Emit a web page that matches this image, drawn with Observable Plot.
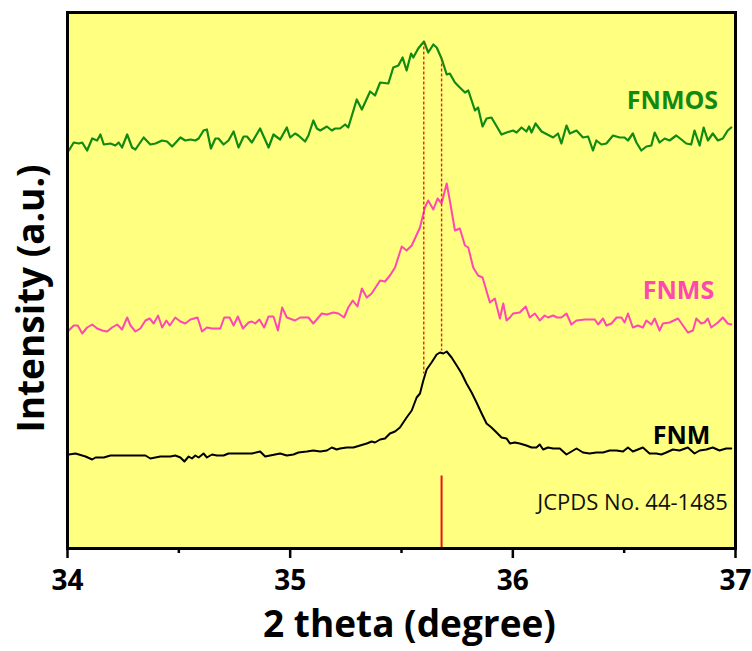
<!DOCTYPE html>
<html>
<head>
<meta charset="utf-8">
<script src="https://cdn.jsdelivr.net/npm/d3@7"></script>
<script src="https://cdn.jsdelivr.net/npm/@observablehq/plot@0.6"></script>
<style>
  html, body { margin: 0; padding: 0; background: #fff; }
  #chart { width: 752px; height: 651px; }
</style>
</head>
<body>
<div id="chart"></div>
<script>
// ---- FNMOS (green) ----
const fnmosTheta = [34.006,34.028,34.051,34.066,34.088,34.111,34.133,34.148,34.163,34.193,
  34.215,34.230,34.245,34.268,34.290,34.305,34.342,34.372,34.395,34.425,
  34.447,34.470,34.507,34.529,34.552,34.574,34.589,34.611,34.626,34.644,
  34.664,34.678,34.701,34.723,34.746,34.768,34.791,34.806,34.828,34.865,
  34.903,34.925,34.955,34.985,35.000,35.022,35.037,35.067,35.082,35.104,
  35.120,35.135,35.165,35.187,35.202,35.224,35.247,35.261,35.299,35.322,
  35.359,35.381,35.404,35.441,35.463,35.486,35.505,35.523,35.543,35.553,
  35.575,35.601,35.620,35.643,35.658,35.680,35.703,35.717,35.740,35.762,
  35.785,35.800,35.830,35.844,35.864,35.882,35.904,35.949,35.972,36.001,
  36.017,36.039,36.061,36.073,36.084,36.102,36.129,36.181,36.203,36.218,
  36.241,36.256,36.286,36.315,36.338,36.360,36.375,36.398,36.420,36.450,
  36.480,36.502,36.517,36.539,36.555,36.577,36.600,36.622,36.637,36.659,
  36.682,36.704,36.734,36.757,36.779,36.801,36.816,36.839,36.857,36.876,
  36.898,36.921,36.943,36.965,36.981];
const fnmosI = [398,406,405,406,398,410,408,414,404,405,
  403,406,401,414,401,399,411,404,405,408,
  407,402,411,408,409,408,410,418,419,400,
  410,410,404,408,417,401,412,412,406,420,
  401,414,409,421,411,415,413,407,413,428,
  420,418,422,418,420,420,424,421,449,439,
  457,453,466,465,481,483,491,478,495,491,
  500,507,496,504,501,490,474,475,466,461,
  456,458,438,441,422,430,431,414,416,418,
  416,421,417,422,416,425,417,411,415,405,
  423,415,418,411,412,398,408,404,405,413,
  411,411,408,415,406,398,402,403,416,406,
  410,408,413,409,405,404,418,403,421,408,
  415,408,410,418,421];

// ---- FNMS (pink) ----
const fnmsTheta = [34.006,34.028,34.046,34.066,34.088,34.111,34.133,34.156,34.178,34.200,
  34.223,34.245,34.268,34.283,34.305,34.327,34.350,34.369,34.387,34.407,
  34.425,34.444,34.459,34.484,34.507,34.529,34.552,34.584,34.604,34.626,
  34.649,34.686,34.704,34.728,34.746,34.765,34.788,34.813,34.828,34.843,
  34.862,34.883,34.903,34.925,34.945,34.964,34.985,35.022,35.045,35.082,
  35.104,35.142,35.165,35.194,35.217,35.242,35.261,35.281,35.302,35.322,
  35.344,35.366,35.404,35.426,35.448,35.471,35.501,35.523,35.546,35.583,
  35.605,35.620,35.643,35.662,35.680,35.703,35.717,35.740,35.762,35.785,
  35.800,35.822,35.844,35.864,35.897,35.919,35.942,35.957,35.972,35.987,
  36.001,36.031,36.058,36.076,36.099,36.121,36.143,36.158,36.181,36.199,
  36.218,36.241,36.263,36.286,36.323,36.368,36.383,36.405,36.420,36.443,
  36.466,36.488,36.502,36.517,36.539,36.562,36.584,36.600,36.622,36.637,
  36.659,36.674,36.704,36.742,36.786,36.809,36.824,36.846,36.861,36.876,
  36.891,36.921,36.943,36.965,36.981];
const fnmsI = [218,223,223,215,221,224,220,218,217,221,
  224,219,231,223,217,220,228,230,225,233,
  221,228,223,231,227,225,229,231,217,221,
  220,220,231,231,223,232,220,226,227,225,
  229,221,232,232,218,241,231,228,231,231,
  225,235,234,236,235,231,241,248,242,260,
  251,255,268,267,273,281,302,298,303,321,
  341,348,339,350,345,365,348,318,320,303,
  301,281,273,271,246,250,230,245,228,231,
  235,236,242,231,235,228,233,231,233,231,
  231,235,224,228,229,229,224,230,223,225,
  231,231,226,235,221,223,221,228,224,230,
  218,225,226,230,216,218,230,225,226,230,
  221,226,231,225,224];

// ---- FNM (black) ----
const fnmTheta = [34.006,34.036,34.081,34.111,34.126,34.163,34.193,34.215,34.268,34.327,
  34.350,34.372,34.417,34.462,34.484,34.507,34.525,34.544,34.559,34.574,
  34.589,34.611,34.626,34.649,34.671,34.701,34.723,34.761,34.791,34.828,
  34.865,34.888,34.910,34.955,34.985,35.015,35.037,35.075,35.104,35.135,
  35.165,35.187,35.209,35.224,35.254,35.284,35.314,35.344,35.366,35.381,
  35.404,35.426,35.448,35.471,35.493,35.523,35.546,35.568,35.583,35.598,
  35.613,35.635,35.658,35.673,35.688,35.703,35.725,35.748,35.770,35.792,
  35.815,35.837,35.860,35.882,35.904,35.927,35.949,35.972,35.987,36.009,
  36.031,36.061,36.084,36.106,36.121,36.136,36.158,36.181,36.211,36.241,
  36.256,36.286,36.315,36.345,36.375,36.405,36.435,36.465,36.495,36.517,
  36.539,36.562,36.584,36.614,36.644,36.667,36.689,36.719,36.749,36.786,
  36.816,36.839,36.869,36.898,36.928,36.958,36.981];
const fnmI = [94,95,92,89,91,91,93,93,93,93,
  93,90,92,92,93,91,87,92,90,93,
  91,95,91,94,93,93,95,95,95,95,
  97,92,93,95,93,94,96,97,98,97,
  98,101,99,100,101,101,103,105,107,106,
  109,110,115,117,121,131,138,151,155,168,
  179,186,194,196,195,197,191,183,175,165,
  156,146,135,125,121,116,111,110,105,106,
  105,103,101,101,104,99,101,100,100,94,
  96,100,96,95,96,96,98,98,97,101,
  97,99,101,95,95,94,96,99,98,101,
  95,98,99,101,98,100,100];

// ---- guides & labels ----
const dashTheta = [35.60, 35.68];
const dashTop = [507, 490];
const dashBottom = [175, 198];
const refTheta = [35.68];
const refHeight = [73];
const seriesNames = ["FNMOS", "FNMS", "FNM"];
const labelTheta = [36.717, 36.744, 36.758];
const labelI = [448, 258, 113];
const jcpdsText = "JCPDS No. 44-1485";
const majorTicks = [34, 35, 36, 37];
const minorTicks = [34.5, 35.5, 36.5];
const xTitle = "2 theta (degree)";
const yTitle = "Intensity (a.u.)";

const colors = {FNMOS: "#108a10", FNMS: "#ff48b0", FNM: "#000000"};

const mk = (t, v) => t.map((d, i) => ({theta: d, I: v[i]}));
const fnmos = mk(fnmosTheta, fnmosI);
const fnms = mk(fnmsTheta, fnmsI);
const fnm = mk(fnmTheta, fnmI);
const dashes = dashTheta.map((t, i) => ({theta: t, top: dashTop[i], bottom: dashBottom[i]}));
const refs = refTheta.map((t, i) => ({theta: t, h: refHeight[i]}));
const labels = seriesNames.map((n, i) => ({name: n, theta: labelTheta[i], I: labelI[i]}));

const chart = Plot.plot({
  width: 752,
  height: 651,
  marginLeft: 67,
  marginRight: 17,
  marginTop: 12,
  marginBottom: 103,
  x: {domain: [34, 37]},
  y: {domain: [0, 536], axis: null},
  style: {fontFamily: "'Open Sans', sans-serif", fontWeight: "bold", background: "#fff", overflow: "visible"},
  marks: [
    Plot.frame({fill: "#ffff80"}),
    Plot.line(fnm, {x: "theta", y: "I", stroke: colors.FNM, strokeWidth: 2}),
    Plot.line(fnms, {x: "theta", y: "I", stroke: colors.FNMS, strokeWidth: 2}),
    Plot.line(fnmos, {x: "theta", y: "I", stroke: colors.FNMOS, strokeWidth: 2.2}),
    Plot.link(dashes, {x1: "theta", x2: "theta", y1: "top", y2: "bottom", stroke: "#f01e10", strokeWidth: 1.4, strokeDasharray: "3,2"}),
    Plot.link(refs, {x1: "theta", x2: "theta", y1: 0, y2: "h", stroke: "#ee1111", strokeWidth: 2}),
    Plot.text(labels, {x: "theta", y: "I", text: "name", fill: d => colors[d.name], fontSize: 25, fontWeight: "bold", textAnchor: "middle"}),
    Plot.text([jcpdsText], {x: 36.966, y: 46, text: d => d, textAnchor: "end", fontSize: 22, fontWeight: "normal", fill: "#111"}),
    Plot.frame({stroke: "#000", strokeWidth: 3}),
    Plot.axisX({ticks: majorTicks, tickSize: 10, tickPadding: 12, strokeWidth: 2.5, fontSize: 28, fontWeight: "bold", tickFormat: "d", label: null, fill: "#000"}),
    Plot.axisX({ticks: minorTicks, tickSize: 5, strokeWidth: 2.5, tickFormat: () => "", label: null}),
    Plot.text([xTitle], {frameAnchor: "bottom", lineAnchor: "middle", textAnchor: "middle", text: d => d, dx: 8, dy: 77, fontSize: 37, fontWeight: "bold", fill: "#000"}),
    Plot.text([yTitle], {frameAnchor: "left", lineAnchor: "middle", textAnchor: "middle", text: d => d, rotate: -90, dx: -35, dy: 18, fontSize: 37, fontWeight: "bold", fill: "#000"})
  ]
});
document.getElementById("chart").appendChild(chart);
</script>
</body>
</html>
